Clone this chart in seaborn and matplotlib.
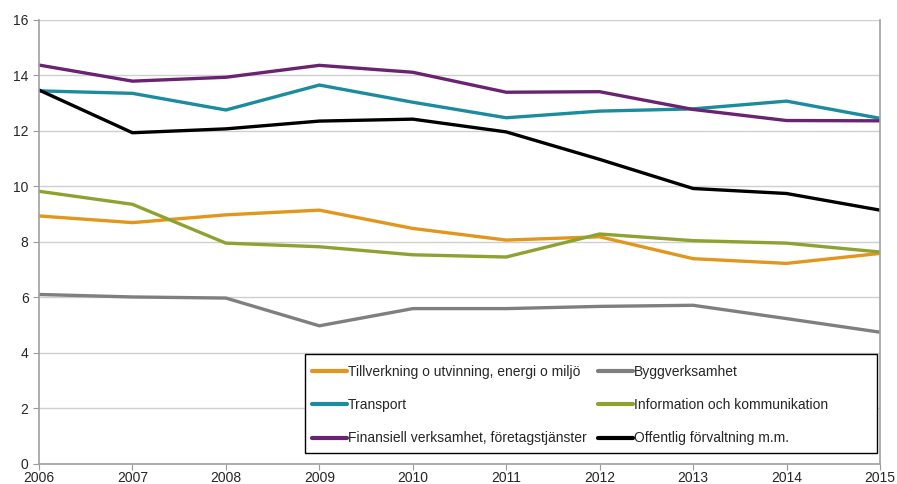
import matplotlib
matplotlib.use("Agg")
import matplotlib.pyplot as plt
from matplotlib.patches import Rectangle
import pandas as pd
import seaborn as sns

years = list(range(2006, 2016))

tillverkning = [8.93, 8.69, 8.97, 9.14, 8.48, 8.06, 8.18, 7.39, 7.22, 7.58]
transport = [13.44, 13.35, 12.75, 13.65, 13.03, 12.47, 12.71, 12.79, 13.07, 12.45]
finansiell = [14.37, 13.79, 13.93, 14.36, 14.11, 13.39, 13.41, 12.77, 12.37, 12.36]
bygg = [6.10, 6.01, 5.97, 4.97, 5.59, 5.59, 5.67, 5.71, 5.23, 4.74]
information = [9.82, 9.35, 7.95, 7.82, 7.53, 7.45, 8.28, 8.04, 7.95, 7.63]
offentlig = [13.47, 11.93, 12.07, 12.35, 12.42, 11.96, 10.97, 9.92, 9.74, 9.14]

names = ["Tillverkning o utvinning, energi o miljö",
         "Transport",
         "Finansiell verksamhet, företagstjänster",
         "Byggverksamhet",
         "Information och kommunikation",
         "Offentlig förvaltning m.m."]
series = [tillverkning, transport, finansiell, bygg, information, offentlig]
colors = ["#E3961C", "#1A8C9E", "#6A2371", "#7F7F7F", "#8DA230", "#000000"]

#long format for seaborn
rows = []
for name, vals in zip(names, series):
    for y, v in zip(years, vals):
        rows.append({"year": y, "value": v, "series": name})
df = pd.DataFrame(rows)

sns.set_style("white")
plt.rcParams['font.family'] = ['Liberation Sans', 'DejaVu Sans']

fig = plt.figure(figsize=(8.97, 4.84), dpi=100)
ax = fig.add_axes([0.0435, 0.042, 0.9375, 0.917])

sns.lineplot(data=df, x="year", y="value", hue="series", hue_order=names,
             palette=dict(zip(names, colors)), linewidth=2.4, ax=ax)

ax.set_xlim(2006, 2015)
ax.set_ylim(0, 16)
ax.set_xticks(years)
ax.set_yticks(range(0, 17, 2))
ax.set_xlabel("")
ax.set_ylabel("")
ax.grid(axis="y", color="#CFCFCF", linewidth=1)
ax.set_axisbelow(True)
ax.tick_params(axis="both", labelsize=10, length=4, color="#9A9A9A", direction="out",
               left=True, bottom=True)
ax.tick_params(axis="x", pad=1)
for s in ["left", "bottom", "right"]:
    ax.spines[s].set_color("#A0A0A0")
    ax.spines[s].set_linewidth(1.2)
ax.spines["top"].set_visible(False)

#legend box drawn separately so it can be wider than its content
box = Rectangle((0.3163, 0.0241), 0.6801, 0.2229, transform=ax.transAxes,
                facecolor="white", edgecolor="black", linewidth=1.0, zorder=5)
ax.add_patch(box)

leg = ax.legend(ncol=2, loc="upper left", bbox_to_anchor=(0.3246, 0.222),
                frameon=False, fontsize=10, handlelength=2.5, handletextpad=0.1,
                borderaxespad=0, borderpad=0, labelspacing=1.38, columnspacing=0.8)
leg.set_zorder(6)
for line in leg.get_lines():
    line.set_linewidth(3)

fig.savefig("out.png", dpi=100)
